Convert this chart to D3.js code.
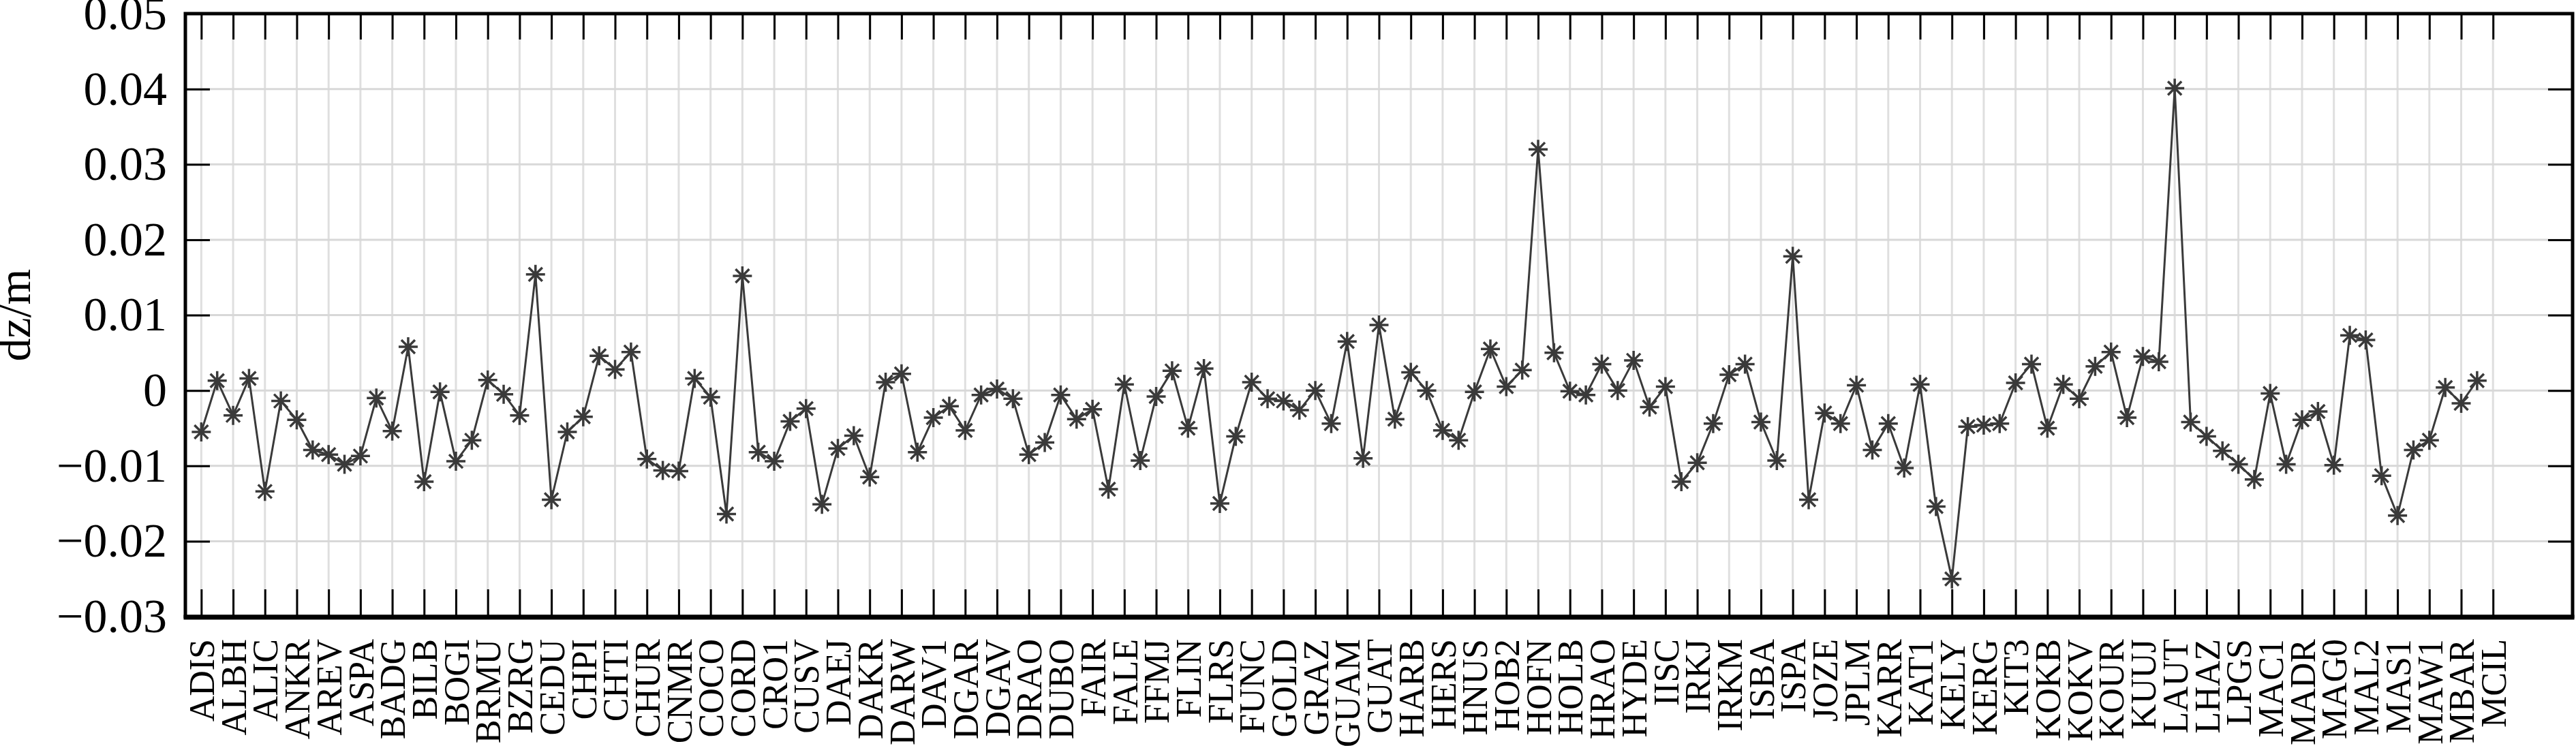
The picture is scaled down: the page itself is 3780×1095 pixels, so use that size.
<!DOCTYPE html>
<html>
<head>
<meta charset="utf-8">
<script src="https://cdn.jsdelivr.net/npm/d3@7"></script>
<style>
  html, body { margin: 0; padding: 0; background: #fff; }
  svg { display: block; }
</style>
</head>
<body>
<svg id="chart" width="3780" height="1095"></svg>
<script>
// Station labels shown on the x axis (every other station)
const stationLabels = ["ADIS","ALBH","ALIC","ANKR","AREV","ASPA","BADG","BILB","BOGI","BRMU",
  "BZRG","CEDU","CHPI","CHTI","CHUR","CNMR","COCO","CORD","CRO1","CUSV",
  "DAEJ","DAKR","DARW","DAV1","DGAR","DGAV","DRAO","DUBO","FAIR","FALE",
  "FFMJ","FLIN","FLRS","FUNC","GOLD","GRAZ","GUAM","GUAT","HARB","HERS",
  "HNUS","HOB2","HOFN","HOLB","HRAO","HYDE","IISC","IRKJ","IRKM","ISBA",
  "ISPA","JOZE","JPLM","KARR","KAT1","KELY","KERG","KIT3","KOKB","KOKV",
  "KOUR","KUUJ","LAUT","LHAZ","LPGS","MAC1","MADR","MAG0","MAL2","MAS1",
  "MAW1","MBAR","MCIL"];

// dz values (m), one per station index (two stations per label)
const dzValues = [
  -0.0055, 0.0013, -0.0033, 0.0016, -0.0134, -0.0014, -0.0039, -0.0079, -0.0085, -0.0098,
  -0.0087, -0.0010, -0.0054, 0.0058, -0.0121, -0.0002, -0.0094, -0.0066, 0.0014, -0.0005,
  -0.0033, 0.0154, -0.0145, -0.0055, -0.0035, 0.0046, 0.0028, 0.0051, -0.0091, -0.0106,
  -0.0107, 0.0016, -0.0009, -0.0164, 0.0152, -0.0082, -0.0094, -0.0041, -0.0024, -0.0151,
  -0.0077, -0.0060, -0.0115, 0.0011, 0.0022, -0.0082, -0.0036, -0.0021, -0.0053, -0.0006,
  0.0002, -0.0011, -0.0085, -0.0069, -0.0006, -0.0038, -0.0025, -0.0131, 0.0008, -0.0093,
  -0.0008, 0.0026, -0.0050, 0.0029, -0.0150, -0.0061, 0.0011, -0.0011, -0.0014, -0.0026,
  0.0000, -0.0044, 0.0065, -0.0090, 0.0087, -0.0038, 0.0024, 0.0000, -0.0053, -0.0066,
  -0.0002, 0.0055, 0.0005, 0.0027, 0.0320, 0.0050, -0.0001, -0.0006, 0.0035, 0.0000,
  0.0040, -0.0022, 0.0005, -0.0121, -0.0096, -0.0044, 0.0021, 0.0035, -0.0042, -0.0093,
  0.0178, -0.0145, -0.0030, -0.0044, 0.0007, -0.0079, -0.0044, -0.0103, 0.0008, -0.0154,
  -0.0250, -0.0048, -0.0046, -0.0044, 0.0010, 0.0035, -0.0050, 0.0008, -0.0011, 0.0032,
  0.0051, -0.0036, 0.0045, 0.0038, 0.0401, -0.0042, -0.0061, -0.0080, -0.0098, -0.0118,
  -0.0004, -0.0098, -0.0039, -0.0028, -0.0099, 0.0073, 0.0067, -0.0113, -0.0166, -0.0079,
  -0.0066, 0.0004, -0.0017, 0.0013
];

const yTickValues = [-0.03, -0.02, -0.01, 0, 0.01, 0.02, 0.03, 0.04, 0.05];
const yTitle = "dz/m";

const FONT = "'Liberation Serif', 'Times New Roman', Times, serif";
const svg = d3.select("#chart");

const L = 272, R = 3775, T = 20, B = 905;
const x = d3.scaleLinear().domain([-1, 149]).range([L, R]);
const y = d3.scaleLinear().domain([-0.03, 0.05]).range([B, T]);

const xTickValues = stationLabels.map((d, i) => i * 2);
const labelAt = new Map(stationLabels.map((d, i) => [i * 2, d]));

// grid
const grid = svg.append("g");
grid.selectAll("line.v").data(xTickValues).join("line")
  .attr("x1", d => x(d)).attr("x2", d => x(d))
  .attr("y1", T).attr("y2", B)
  .attr("stroke", "#dfdfdf").attr("stroke-width", 3);
grid.selectAll("line.h").data(yTickValues.slice(1, -1)).join("line")
  .attr("x1", L).attr("x2", R)
  .attr("y1", d => y(d)).attr("y2", d => y(d))
  .attr("stroke", "#d8d8d8").attr("stroke-width", 3);

// axes
function styleAxis(g) {
  g.select(".domain").remove();
  g.selectAll(".tick line").attr("stroke", "#000").attr("stroke-width", 3);
}
const yFmt = d => d === 0 ? "0" : d3.format(".2f")(d);

svg.append("g").attr("transform", `translate(${L},0)`)
  .call(d3.axisLeft(y).tickValues(yTickValues).tickFormat(yFmt).tickSizeInner(-36).tickSizeOuter(0).tickPadding(27))
  .call(styleAxis)
  .call(g => g.selectAll("text").attr("font-family", FONT).attr("font-size", 70).attr("fill", "#000"));

svg.append("g").attr("transform", `translate(${R},0)`)
  .call(d3.axisRight(y).tickValues(yTickValues).tickFormat("").tickSizeInner(-36).tickSizeOuter(0))
  .call(styleAxis);

svg.append("g").attr("transform", `translate(0,${T})`)
  .call(d3.axisTop(x).tickValues(xTickValues).tickFormat("").tickSizeInner(-38).tickSizeOuter(0))
  .call(styleAxis);

svg.append("g").attr("transform", `translate(0,${B})`)
  .call(d3.axisBottom(x).tickValues(xTickValues).tickFormat(d => labelAt.get(d)).tickSizeInner(-40).tickSizeOuter(0))
  .call(styleAxis)
  .call(g => g.selectAll("text")
    .attr("font-family", FONT).attr("font-size", 52).attr("fill", "#000")
    .attr("transform", "rotate(-90)")
    .attr("text-anchor", "end")
    .attr("x", -33).attr("y", 0).attr("dy", "0.35em"));

// frame
svg.append("rect").attr("x", L).attr("y", T).attr("width", R - L).attr("height", B - T)
  .attr("fill", "none").attr("stroke", "#000").attr("stroke-width", 5);
svg.append("line").attr("x1", L - 2.5).attr("x2", R + 2.5).attr("y1", B + 1).attr("y2", B + 1)
  .attr("stroke", "#000").attr("stroke-width", 7);

// line
const line = d3.line().x((d, i) => x(i)).y(d => y(d));
svg.append("path").datum(dzValues)
  .attr("d", line).attr("fill", "none")
  .attr("stroke", "#3a3a3a").attr("stroke-width", 3).attr("stroke-linejoin", "round");

// asterisk markers
const r = 14, dd = 10;
const star = `M${-r},0H${r}M0,${-r}V${r}M${-dd},${-dd}L${dd},${dd}M${-dd},${dd}L${dd},${-dd}`;
svg.append("g").selectAll("path").data(dzValues).join("path")
  .attr("transform", (d, i) => `translate(${x(i)},${y(d)})`)
  .attr("d", star).attr("fill", "none")
  .attr("stroke", "#3a3a3a").attr("stroke-width", 3.5);

// y title
svg.append("text")
  .attr("transform", `translate(44,${(T + B) / 2}) rotate(-90)`)
  .attr("text-anchor", "middle")
  .attr("font-family", FONT).attr("font-size", 68).attr("fill", "#000")
  .text(yTitle);
</script>
</body>
</html>
